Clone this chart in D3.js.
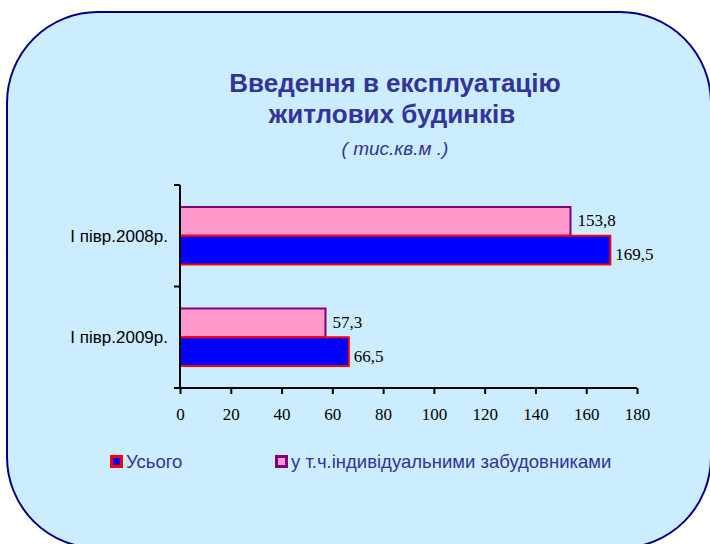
<!DOCTYPE html>
<html><head><meta charset="utf-8">
<script src="https://cdn.jsdelivr.net/npm/d3@7"></script>
<style>html,body{margin:0;padding:0;background:#fff;}svg{display:block;}</style>
</head><body>
<svg id="c" width="710" height="544"></svg>
<script>
const categories = ["I півр.2008р.", "I півр.2009р."];
const seriesNames = ["у т.ч.індивідуальними забудовниками", "Усього"];
const individual = [153.8, 57.3];
const total = [169.5, 66.5];
const xTicks = [0, 20, 40, 60, 80, 100, 120, 140, 160, 180];
const titleLines = ["Введення в експлуатацію", "житлових будинків"];
const subtitle = "( тис.кв.м .)";

const svg = d3.select("#c");
svg.append("rect").attr("x", 7).attr("y", 12).attr("width", 704).attr("height", 536)
  .attr("rx", 91).attr("ry", 91).attr("fill", "#CCECFF").attr("stroke", "#000080").attr("stroke-width", 2);

const tcol = "#333399";
svg.append("text").attr("x", 395).attr("y", 92).attr("text-anchor", "middle")
  .attr("font-family", "Liberation Sans, Arial").attr("font-weight", "bold").attr("font-size", 26)
  .attr("fill", tcol).text(titleLines[0]);
svg.append("text").attr("x", 392).attr("y", 123).attr("text-anchor", "middle")
  .attr("font-family", "Liberation Sans, Arial").attr("font-weight", "bold").attr("font-size", 26)
  .attr("fill", tcol).text(titleLines[1]);
svg.append("text").attr("x", 395).attr("y", 155).attr("text-anchor", "middle")
  .attr("font-family", "Liberation Sans, Arial").attr("font-style", "italic").attr("font-size", 19)
  .attr("fill", tcol).text(subtitle);

const x = d3.scaleLinear().domain([0, 180]).range([180, 637]);
const y = d3.scaleBand().domain(categories).range([185, 388]);
const inner = d3.scaleBand().domain(seriesNames).range([22, y.bandwidth() - 22]);

const data = categories.map((c, i) => ({c, vals: [
  {s: seriesNames[0], v: individual[i], fill: "#FF99CC", stroke: "#800080", dy: 5, dx: 7},
  {s: seriesNames[1], v: total[i], fill: "#0000FF", stroke: "#FF0000", dy: 10, dx: 5}]}));

const g = svg.append("g");
data.forEach(d => {
  d.vals.forEach(b => {
    const yy = y(d.c) + inner(b.s);
    g.append("rect").attr("x", x(0)).attr("y", yy).attr("width", x(b.v) - x(0)).attr("height", inner.bandwidth())
      .attr("fill", b.fill).attr("stroke", b.stroke).attr("stroke-width", 2);
    g.append("text").attr("x", x(b.v) + b.dx).attr("y", yy + inner.bandwidth() / 2 + b.dy)
      .attr("font-family", "Liberation Serif, Times New Roman").attr("font-size", 17).attr("fill", "#000")
      .text(String(b.v).replace(".", ","));
  });
});

// y axis
const yAxis = svg.append("g");
yAxis.append("line").attr("x1", 180).attr("x2", 180).attr("y1", 185).attr("y2", 388).attr("stroke", "#000").attr("stroke-width", 2);
[y.range()[0], y(categories[1])].forEach(yy => {
  yAxis.append("line").attr("x1", 174).attr("x2", 180).attr("y1", yy).attr("y2", yy).attr("stroke", "#000").attr("stroke-width", 2);
});
categories.forEach(c => {
  yAxis.append("text").attr("x", 168).attr("y", y(c) + y.bandwidth() / 2 + 6).attr("text-anchor", "end")
    .attr("font-family", "Liberation Sans, Arial").attr("font-size", 17).attr("fill", "#000").text(c);
});

// x axis
const xAxis = svg.append("g").attr("transform", "translate(0,388)")
  .call(d3.axisBottom(x).tickValues(xTicks).tickSize(6).tickSizeOuter(0).tickPadding(14).tickFormat(d3.format("d")));
xAxis.select(".domain").attr("stroke", "#000").attr("stroke-width", 2).attr("d", "M174,0H637");
xAxis.selectAll(".tick line").attr("stroke", "#000").attr("stroke-width", 2);
xAxis.selectAll(".tick text").attr("font-family", "Liberation Serif, Times New Roman").attr("font-size", 17).attr("fill", "#000");

// legend
const leg = [
  {name: seriesNames[1], fill: "#0000FF", stroke: "#FF0000", x: 110},
  {name: seriesNames[0], fill: "#FF99CC", stroke: "#800080", x: 275}];
leg.forEach(l => {
  svg.append("rect").attr("x", l.x + 1.5).attr("y", 456.5).attr("width", 10).attr("height", 10)
    .attr("fill", l.fill).attr("stroke", l.stroke).attr("stroke-width", 3);
  svg.append("text").attr("x", l.x + 16).attr("y", 468).attr("font-family", "Liberation Sans, Arial")
    .attr("font-size", 18.5).attr("fill", tcol).text(l.name);
});
</script>
</body></html>
